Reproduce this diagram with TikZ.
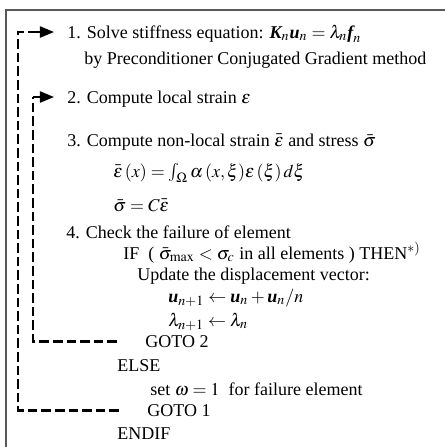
\documentclass[tikz,border=0pt]{standalone}
\usepackage{mathptmx}
\usepackage[no-math]{fontspec}
\setmainfont{Liberation Serif}
\usepackage{tikz}
\usetikzlibrary{arrows.meta}
\newcommand{\bvec}[1]{\mbox{\bfseries\itshape #1}}

\begin{document}
\begin{tikzpicture}[
  x=0.5pt, y=-0.5pt,
  font=\fontsize{9}{10.5}\selectfont,
  txt/.style={anchor=base west, inner sep=0pt},
  frame/.style={line width=0.8pt, gray!70!black},
  loopline/.style={line width=1.4pt, dash pattern=on 4.8pt off 2pt},
  arr/.style={-{Triangle[length=7pt, width=5.5pt]}, line width=1.1pt, shorten >=6.5pt},
]
\useasboundingbox (0,0) rectangle (445,447);
% frame (top and left only)
\draw[frame] (445,10) -- (6,10) -- (6,447);
% steps
\node[txt] (s1) at (67,38) {1. Solve stiffness equation: $\bvec{K}_n\bvec{u}_n=\lambda_n\bvec{f}_n$};
\node[txt] (s1b) at (84,64) {by Preconditioner Conjugated Gradient method};
\node[txt] (s2) at (67,103) {2. Compute local strain $\varepsilon$};
\node[txt] (s3) at (67,146) {3. Compute non-local strain $\bar{\varepsilon}$ and stress $\bar{\sigma}$};
\node[txt] (eqa) at (113,177) {$\bar{\varepsilon}\,(x)=\int_\Omega\alpha\,(x,\xi)\varepsilon\,(\xi)\,d\xi$};
\node[txt] (eqb) at (113,211) {$\bar{\sigma}=C\bar{\varepsilon}$};
\node[txt] (s4) at (66,238) {4. Check the failure of element};
\node[txt] (cif) at (123,259) {IF\ \ (\ $\bar{\sigma}_{\max}<\sigma_c$ in all elements ) THEN$^{*)}$};
\node[txt] (upd) at (137,280) {Update the displacement vector:};
\node[txt] (equ) at (168,302) {$\bvec{u}_{n+1}\leftarrow\bvec{u}_n+\bvec{u}_n/n$};
\node[txt] (eql) at (168,326) {$\lambda_{n+1}\leftarrow\lambda_n$};
\node[txt] (g2) at (145,347) {GOTO 2};
\node[txt] (els) at (117,371) {ELSE};
\node[txt] (setw) at (150,395) {set $\omega=1$\ \ for failure element};
\node[txt] (g1) at (147,416) {GOTO 1};
\node[txt] (eif) at (117,439) {ENDIF};
% loops back
\coordinate (ocorner) at (18,32);
\coordinate (otail) at (36,32);
\coordinate (icorner) at (33,97);
\draw[loopline] ([xshift=-14pt]g1.west) -| (ocorner) -- (otail);
\draw[arr] (otail) -- (otail -| s1.west);
\draw[loopline] ([xshift=-14pt]g2.west) -| (icorner);
\draw[arr] (icorner) -- (icorner -| s2.west);
\end{tikzpicture}
\end{document}
